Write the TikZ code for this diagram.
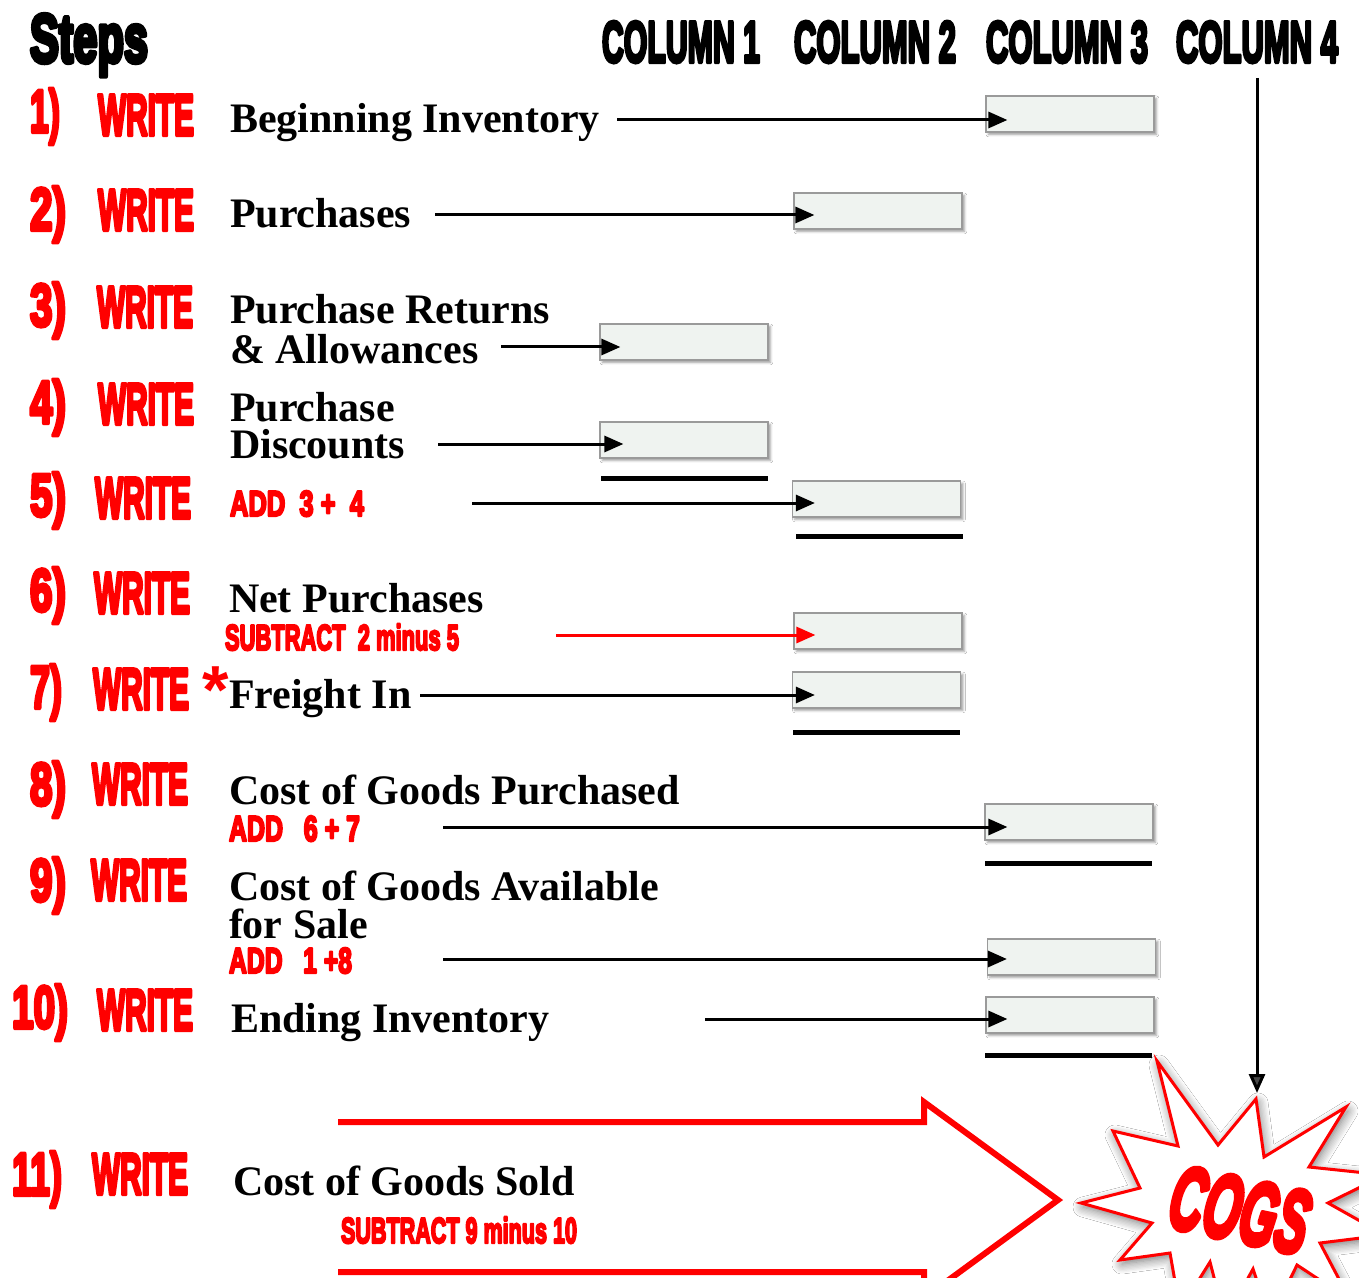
\documentclass[tikz,border=0pt]{standalone}
\usepackage{fontspec}
\usepackage{graphicx}
\setmainfont{Liberation Serif}
\newfontfamily\impfont{Liberation Sans Bold}
\newfontfamily\impit{Liberation Sans Bold Italic}
\usetikzlibrary{arrows.meta,calc,shadows.blur}
\definecolor{boxfill}{HTML}{EFF3F0}
\definecolor{boxline}{HTML}{9A9A9A}
\newcommand\hs[3][2]{\resizebox{#2}{\height}{\special{pdf:literal direct 2 Tr #1 w 1 j 1 J}#3\special{pdf:literal direct 0 Tr}}}
\begin{document}
\begin{tikzpicture}[x=0.5pt,y=-0.5pt,
  txt/.style={anchor=base west, inner sep=0pt, outer sep=0pt},
  hdr/.style={txt, font=\impfont\fontsize{29}{29}\selectfont},
  num/.style={txt, text=red, font=\impfont\fontsize{30}{30}\selectfont},
  wr/.style={txt, text=red, font=\impfont\fontsize{29}{29}\selectfont},
  lbl/.style={txt, font=\bfseries\fontsize{21}{21}\selectfont},
  sub/.style={txt, text=red, font=\impfont\fontsize{18}{18}\selectfont},
  valbox/.style={draw=boxline, line width=0.6pt, fill=boxfill, minimum width=84pt, minimum height=18pt, inner sep=0pt,
    blur shadow={shadow xshift=1.2pt, shadow yshift=-1.2pt, shadow blur radius=1.2pt, shadow blur steps=4}},
  arr/.style={line width=1.5pt, -{Triangle[length=9.5pt,width=8pt]}},
  ul/.style={line width=2.5pt}]
\useasboundingbox (0,0) rectangle (1359,1278);
\fill[white] (0,0) rectangle (1359,1278);
\clip (0,0) rectangle (1359,1278);

% headers
\node[txt, font=\impfont\fontsize{34}{34}\selectfont] (steps) at (30,62) {\hs[2.6]{59pt}{Steps}};
\node[hdr] (c1) at (602,62) {\hs{79pt}{COLUMN 1}};
\node[hdr] (c2) at (794,62) {\hs{81pt}{COLUMN 2}};
\node[hdr] (c3) at (986,62) {\hs{81pt}{COLUMN 3}};
\node[hdr] (c4) at (1176,62) {\hs{81pt}{COLUMN 4}};

% step numbers
\node[num] (n1) at (30,132) {\hs{15pt}{1)}};
\node[num] (n2) at (30,230) {\hs{18pt}{2)}};
\node[num] (n3) at (30,326) {\hs{18pt}{3)}};
\node[num] (n4) at (30,423) {\hs{18pt}{4)}};
\node[num] (n5) at (30,516) {\hs{18pt}{5)}};
\node[num] (n6) at (30,611) {\hs{18pt}{6)}};
\node[num] (n7) at (30,708) {\hs{16pt}{7)}};
\node[num] (n8) at (30,805) {\hs{18pt}{8)}};
\node[num] (n9) at (30,901) {\hs{18pt}{9)}};
\node[num] (n10) at (12,1028) {\hs{28pt}{10)}};
\node[num] (n11) at (12,1195) {\hs{25pt}{11)}};

% WRITE
\node[wr] (w1) at (98,135) {\hs{48pt}{WRITE}};
\node[wr] (w2) at (98,230) {\hs{48pt}{WRITE}};
\node[wr] (w3) at (97,327) {\hs{48pt}{WRITE}};
\node[wr] (w4) at (98,424) {\hs{48pt}{WRITE}};
\node[wr] (w5) at (95,518) {\hs{48pt}{WRITE}};
\node[wr] (w6) at (94,613) {\hs{48pt}{WRITE}};
\node[wr] (w7) at (93,709) {\hs{48pt}{WRITE}};
\node[wr] (w8) at (92,804) {\hs{48pt}{WRITE}};
\node[wr] (w9) at (91,900) {\hs{48pt}{WRITE}};
\node[wr] (w10) at (97,1030) {\hs{48pt}{WRITE}};
\node[wr] (w11) at (92,1194) {\hs{48pt}{WRITE}};
\node[txt, text=red, font=\impfont\fontsize{34}{34}\selectfont] (star7) at (202,713) {*};

% labels
\node[lbl] (l1) at (230,133) {Beginning Inventory};
\node[lbl] (l2) at (230,228) {Purchases};
\node[lbl] (l3a) at (230,324) {Purchase Returns};
\node[lbl] (l3b) at (230,364) {\& Allowances};
\node[lbl] (l4a) at (230,422) {Purchase};
\node[lbl] (l4b) at (230,458) {Discounts};
\node[sub] (s5) at (230,516) {\hs[1.2]{67pt}{ADD\ \ 3 +\ \ 4}};
\node[lbl] (l6) at (229,612) {Net Purchases};
\node[sub] (s6) at (225,650) {\hs[1.2]{117pt}{SUBTRACT\ \ 2 minus 5}};
\node[lbl] (l7) at (229,708) {Freight In};
\node[lbl] (l8) at (229,804) {Cost of Goods Purchased};
\node[sub] (s8) at (229,841) {\hs[1.2]{65.5pt}{ADD\ \ \ 6 + 7}};
\node[lbl] (l9a) at (229,900) {Cost of Goods Available};
\node[lbl] (l9b) at (229,938) {for Sale};
\node[sub] (s9) at (229,973) {\hs[1.2]{61.5pt}{ADD\ \ \ 1 +8}};
\node[lbl] (l10) at (231,1032) {Ending Inventory};
\node[lbl] (l11) at (233,1195) {Cost of Goods Sold};
\node[sub] (s11) at (341,1243) {\hs[1.2]{118pt}{SUBTRACT 9 minus 10}};

% value boxes
\node[valbox] (b1) at (1070,114) {};
\node[valbox] (b2) at (878,211) {};
\node[valbox] (b3) at (684,342) {};
\node[valbox] (b4) at (684,440) {};
\node[valbox] (b5) at (876.5,499) {};
\node[valbox] (b6) at (878,631) {};
\node[valbox] (b7) at (876.5,690) {};
\node[valbox] (b8) at (1069,822) {};
\node[valbox] (b9) at (1071.5,957) {};
\node[valbox] (b10) at (1070,1015) {};

% underlines
\draw[ul] (601,478) -- (768,478);
\draw[ul] (796,536) -- (963,536);
\draw[ul] (793,732) -- (960,732);
\draw[ul] (985,863) -- (1152,863);
\draw[ul] (985,1055) -- (1152,1055);

% arrows
\coordinate (a1) at (617,120);
\coordinate (a2) at (435,215);
\coordinate (a3) at (501,347);
\coordinate (a4) at (438,444);
\coordinate (a5) at (472,503);
\coordinate (a6) at (556,635);
\coordinate (a7) at (420,695);
\coordinate (a8) at (443,827);
\coordinate (a9) at (443,959);
\coordinate (a10) at (705,1019);
\draw[arr] (a1) -- ($(b1.west |- a1)+(11pt,0)$);
\draw[arr] (a2) -- ($(b2.west |- a2)+(10.5pt,0)$);
\draw[arr] (a3) -- ($(b3.west |- a3)+(10.5pt,0)$);
\draw[arr] (a4) -- ($(b4.west |- a4)+(12pt,0)$);
\draw[arr] (a5) -- ($(b5.west |- a5)+(11.5pt,0)$);
\draw[arr, red] (a6) -- ($(b6.west |- a6)+(11pt,0)$);
\draw[arr] (a7) -- ($(b7.west |- a7)+(11.5pt,0)$);
\draw[arr] (a8) -- ($(b8.west |- a8)+(11.5pt,0)$);
\draw[arr] (a9) -- ($(b9.west |- a9)+(10pt,0)$);
\draw[arr] (a10) -- ($(b10.west |- a10)+(11pt,0)$);

% big red arrow outline
\draw[red, line width=3pt, line join=miter]
  (338,1122) -- (924,1122) -- (924,1102) -- (1058,1200) -- (924,1298) -- (924,1272) -- (338,1272);

% COGS burst
\draw[red, line width=1.5pt, fill=white, line join=miter,
  blur shadow={shadow xshift=1pt, shadow yshift=-2pt, shadow blur radius=5pt, shadow blur steps=8, shadow opacity=55}]
  (1081,1203) -- (1140,1188) -- (1113,1131) -- (1178,1146) -- (1157,1061) -- (1218,1145)
  -- (1256,1099) -- (1264,1157) -- (1346,1107) -- (1309,1167) -- (1385,1175) -- (1328,1203)
  -- (1385,1235) -- (1320,1243) -- (1350,1300) -- (1297,1265) -- (1270,1320) -- (1253,1269)
  -- (1225,1320) -- (1210,1262) -- (1180,1310) -- (1170,1253) -- (1120,1260) -- (1152,1223) -- cycle;
\node[text=red, inner sep=0pt, rotate=-12, font=\impit\fontsize{45}{45}\selectfont] (cogs) at (1240,1210) {\hs[3]{70pt}{COGS}};

% column 4 arrow
\coordinate (v0) at (1257,78);
\coordinate (startop) at (1257,1093);
\draw[arr] (v0) -- (startop);
\end{tikzpicture}
\end{document}
